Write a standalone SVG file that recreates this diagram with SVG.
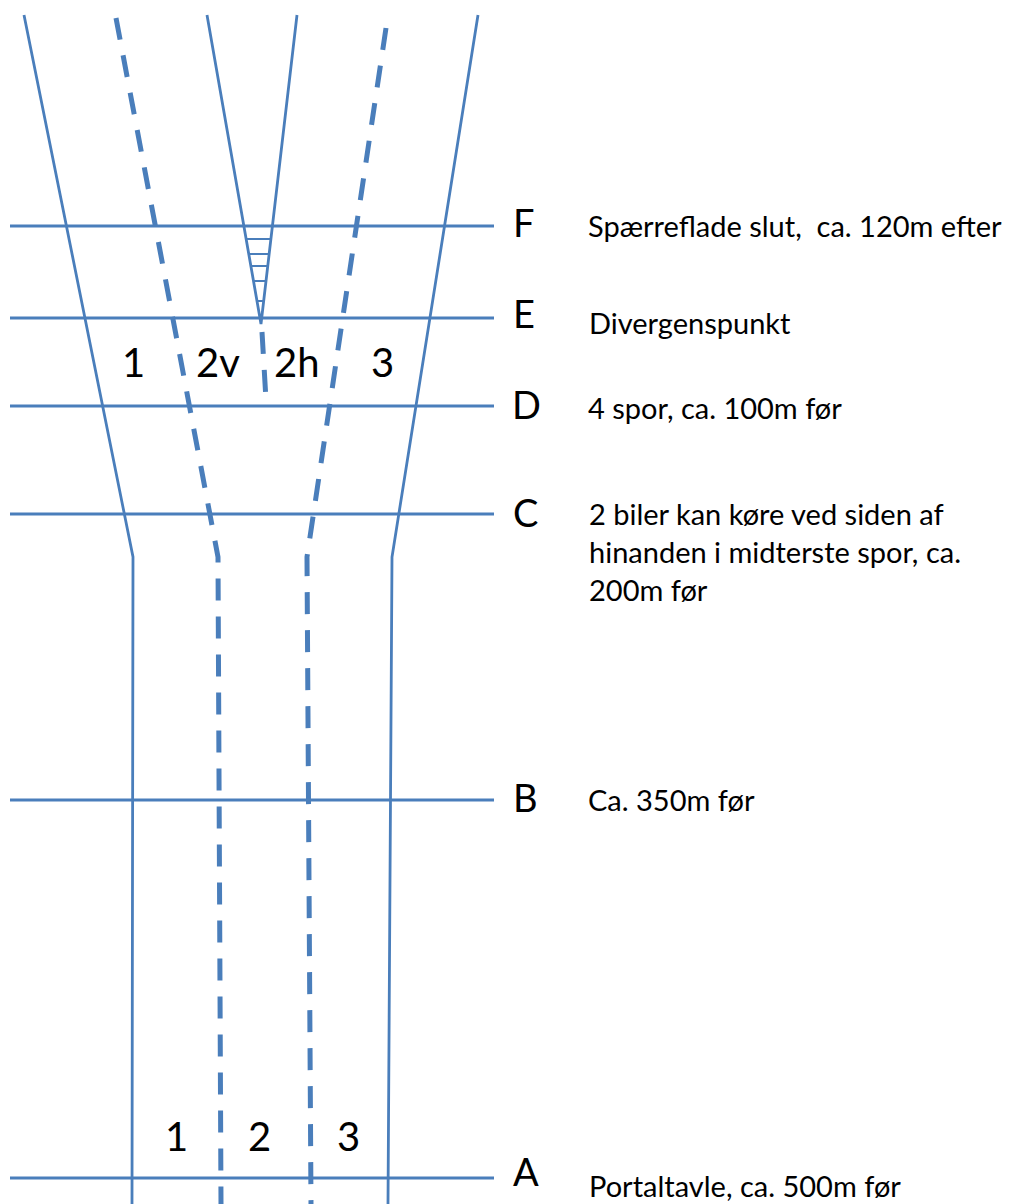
<svg xmlns="http://www.w3.org/2000/svg" width="1016" height="1204" viewBox="0 0 1016 1204">
<style>
.s{fill:none;stroke:#4A7EBB;stroke-width:2.8}
.d{fill:none;stroke:#4A7EBB;stroke-width:5;stroke-dasharray:22 16}
.h{fill:none;stroke:#4A7EBB;stroke-width:2}
.L{font-family:Lato,"Open Sans",sans-serif;font-size:38px;fill:#000}
.T{font-family:Lato,"Open Sans",sans-serif;font-size:29px;fill:#000;white-space:pre}
.N{font-family:Lato,"Open Sans",sans-serif;font-size:40px;fill:#000}
</style>
<rect width="1016" height="1204" fill="#fff"/>
<g id="connectors">
<path class="s" d="M24,15 L133,557 L132,1204"/>
<path class="s" d="M478,15 L392,557 L388,1204"/>
<path class="s" d="M207,15 L261,324 L297,15"/>
<path class="d" d="M116,18 L218,557 L221,1204"/>
<path class="d" d="M386,28 L307,557 L311,1204"/>
<path class="d" d="M262,332 L266,400"/>
<g id="hatch">
<line class="h" x1="246" y1="239" x2="271" y2="239"/>
<line class="h" x1="249" y1="254" x2="269" y2="254"/>
<line class="h" x1="251" y1="266" x2="268" y2="266"/>
<line class="h" x1="254" y1="281" x2="266" y2="281"/>
<line class="h" x1="257" y1="301" x2="264" y2="301"/>
</g>
<line class="s" x1="10" y1="226" x2="494" y2="226"/>
<line class="s" x1="10" y1="318" x2="494" y2="318"/>
<line class="s" x1="10" y1="406" x2="494" y2="406"/>
<line class="s" x1="10" y1="514" x2="494" y2="514"/>
<line class="s" x1="10" y1="800" x2="494" y2="800"/>
<line class="s" x1="10" y1="1178" x2="494" y2="1178"/>
</g>
<g id="F"><text class="L" x="513" y="237">F</text><text class="T" x="588" y="237" xml:space="preserve">Spærreflade slut,  ca. 120m efter</text></g>
<g id="E"><text class="L" x="513" y="328">E</text><text class="T" x="589" y="334">Divergenspunkt</text></g>
<g id="D"><text class="L" x="512" y="419">D</text><text class="T" x="588" y="419">4 spor, ca. 100m før</text></g>
<g id="C"><text class="L" x="513" y="527">C</text><text class="T" x="589" y="525">2 biler kan køre ved siden af</text><text class="T" x="589" y="563">hinanden i midterste spor, ca.</text><text class="T" x="589" y="601">200m før</text></g>
<g id="B"><text class="L" x="513" y="812">B</text><text class="T" x="588" y="811">Ca. 350m før</text></g>
<g id="A"><text class="L" x="513" y="1186">A</text><text class="T" x="589" y="1197">Portaltavle, ca. 500m før</text></g>
<g id="lanes-top">
<text class="N" x="122" y="377">1</text>
<text class="N" x="196" y="377">2v</text>
<text class="N" x="274" y="377">2h</text>
<text class="N" x="371" y="377">3</text>
</g>
<g id="lanes-bottom">
<text class="N" x="165" y="1151">1</text>
<text class="N" x="248" y="1151">2</text>
<text class="N" x="337" y="1151">3</text>
</g>
</svg>
